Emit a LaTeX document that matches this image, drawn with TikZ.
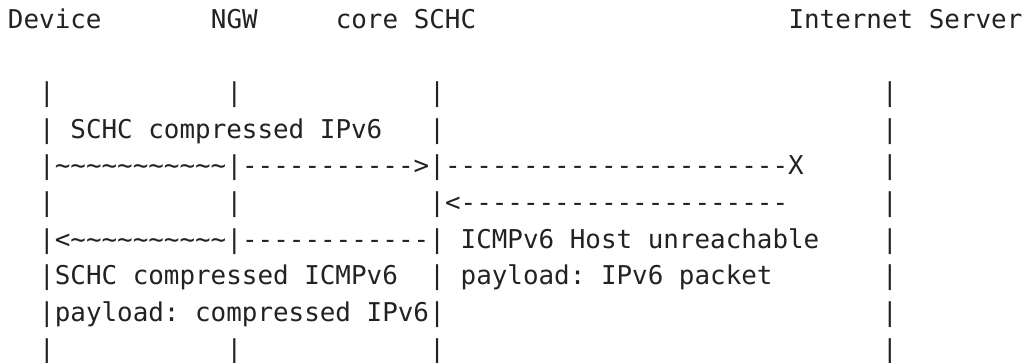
\documentclass[tikz,border=0pt]{standalone}
\usepackage{fontspec}
\setmonofont{DejaVu Sans Mono}
\definecolor{inkgray}{HTML}{222222}
\tikzset{ascii/.style={inner sep=0pt, outer sep=0pt, anchor=base west, text=inkgray, font=\ttfamily\fontsize{25.9pt}{31pt}\selectfont}}

\begin{document}
\begin{tikzpicture}[x=15.61pt, y=-36.67pt]
			%%%%% START %%%%%
			
			\useasboundingbox (-8pt, 28.3pt) rectangle (1017pt, -333.7pt);
			
			\node[ascii] (hdr-dev) at (0, 0) {Device};
			\node[ascii] (hdr-ngw) at (13, 0) {NGW};
			\node[ascii] (hdr-core) at (21, 0) {core SCHC};
			\node[ascii] (hdr-srv) at (50, 0) {Internet Server};
			
			\foreach \r in {2,...,9}
				\foreach \c/\n in {2/dev, 27/core, 56/srv}
					\node[ascii] (\n-\r) at (\c, \r) {|};
			\foreach \r in {2, 4, 5, 6, 9}
				\node[ascii] (ngw-\r) at (14, \r) {|};
			
			\node[ascii] (req-lbl) at (4, 3) {SCHC compressed IPv6};
			
			\node[ascii] (req-radio) at (3, 4) {\detokenize{~~~~~~~~~~~}};
			\node[ascii] (req-ngw) at (15, 4) {----------->};
			\node[ascii] (req-lost) at (28, 4) {----------------------X};
			
			\node[ascii] (icmp-back) at (28, 5) {<---------------------};
			
			\node[ascii] (rep-radio) at (3, 6) {<\detokenize{~~~~~~~~~~}};
			\node[ascii] (rep-ngw) at (15, 6) {------------};
			\node[ascii] (icmp-lbl) at (29, 6) {ICMPv6 Host unreachable};
			
			\node[ascii] (rep-lbl) at (3, 7) {SCHC compressed ICMPv6};
			\node[ascii] (icmp-pay) at (29, 7) {payload: IPv6 packet};
			\node[ascii] (rep-pay) at (3, 8) {payload: compressed IPv6};
			
			%%%%% END %%%%%
		\end{tikzpicture}
\end{document}
